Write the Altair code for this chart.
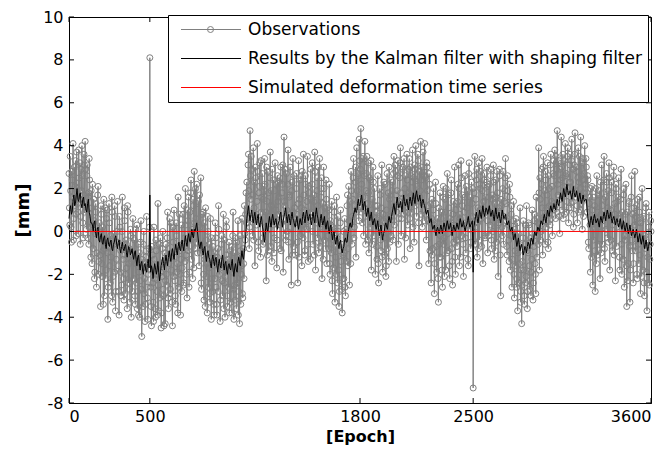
import altair as alt
import pandas as pd

# ---------------- data ----------------
x_ticks = [0, 500, 1800, 2500, 3600]
y_ticks = [-8, -6, -4, -2, 0, 2, 4, 6, 8, 10]

series_names = [
    "Observations",
    "Results by the Kalman filter with shaping filter",
    "Simulated deformation time series",
]
series_colors = ["#808080", "#000000", "#ff0000"]

# observations at epochs 0, 5, 10, ... 3600
obs_step = 5
obs_values = [
    2.7, 0.3, 1.9, -0.5, 2.4, 4.1, 0.6, 1.2, 3.3, -0.2, 2.0, 0.9, 3.8, 1.5, -0.6, 2.9, 4.0, 0.4, 1.7, 3.1,
    4.2, 1.0, 2.6, -0.3, 1.8, 3.4, 0.2, -1.2, 1.1, 2.2, -0.8, 0.5, -1.9, 1.3, -2.6, 0.0, 2.1, -1.4, -0.2, -3.5,
    0.8, -2.1, -0.9, 1.5, -3.0, -0.4, -1.8, 1.0, -4.1, -0.7, 0.4, -2.4, -1.2, 1.6, -3.3, -0.1, -1.9, 0.7, -2.8, -0.5,
    1.4, -1.6, -3.9, 0.2, -0.9, -2.5, 1.6, -1.3, -3.2, 0.5, -2.0, -0.6, -3.6, 0.9, -1.5, -2.7, 0.1, -4.0, -1.1, 0.6,
    -2.2, -0.4, -3.4, -1.5, 0.3, -2.8, -3.9, -1.0, -2.3, 0.5, -4.9, -1.7, -0.6, -2.9, -4.2, -1.2, 0.7, -3.1, -2.0, -0.8,
    8.1, -2.6, -4.4, -1.1, -3.3, 0.2, -2.2, -4.0, -0.9, -2.8, 1.3, -3.7, -1.6, -0.3, -4.5, -2.1, 0.0, -3.0, -1.4, -4.3,
    -0.6, -2.5, 0.9, -3.6, -1.2, -2.9, 0.4, -1.8, -4.4, -0.5, 1.0, -2.3, -3.4, -0.2, -1.5, 1.6, -2.6, -0.9, -3.9, 0.3,
    -1.7, 0.8, -2.4, -0.3, 2.0, -1.1, -3.1, 0.5, 1.6, -1.9, -0.4, 2.4, 0.1, -2.2, 1.2, 2.8, -0.8, 0.6, 2.2, -1.0,
    1.4, -1.6, 0.2, 2.5, -2.7, -0.6, 0.9, -3.2, -1.3, 1.1, -2.1, -3.8, 0.0, -1.7, -2.9, 0.6, -4.1, -2.2, -0.7, -3.4,
    -1.0, 0.4, -2.6, -3.9, -0.8, 1.2, -2.0, -4.2, -1.4, -0.2, -3.0, 0.8, -2.4, -4.0, -1.1, 0.2, -3.5, -1.8, -0.5, -2.7,
    -3.3, -0.7, -1.9, 0.9, -4.1, -2.5, -0.3, -3.6, -1.2, 0.5, -2.8, -4.3, -0.9, -2.0, 0.6, -3.1, -1.5, 1.2, -0.4, 1.8,
    2.3, 0.4, 3.6, -0.8, 4.7, 1.5, 2.9, -0.2, 3.9, 1.1, -1.6, 2.5, 0.3, 4.1, -0.5, 1.8, 3.2, -1.2, 0.9, 2.7,
    -0.6, 2.1, 3.4, 0.2, -2.3, 1.4, 2.8, -0.9, 0.7, 3.7, 1.9, -1.4, 0.5, 2.4, -0.3, 3.2, 1.0, -1.7, 2.6, 0.8,
    1.6, -0.8, 3.0, 0.4, 2.2, -1.9, 4.4, 1.2, -0.4, 2.7, 0.0, 3.8, -1.3, 1.7, 0.6, -2.5, 2.3, 3.4, -0.7, 1.1,
    -1.1, 2.0, 0.8, -2.4, 3.3, 1.5, -0.2, 2.6, -1.6, 0.3, 3.6, 1.0, -0.9, 2.2, 0.1, 3.5, -1.4, 1.8, 0.5, 2.9,
    0.9, 3.2, -0.6, 1.7, 3.7, -1.8, 0.4, 2.5, 1.2, -1.0, 3.4, 0.2, 2.0, -2.2, 1.3, 3.0, -0.4, 0.8, 2.4, -1.5,
    1.1, -0.8, 2.2, -2.0, 0.3, 1.4, -2.9, -0.4, 0.9, -3.3, -1.2, 1.6, -2.4, 0.0, -3.5, -0.9, 1.0, -2.7, -3.8, -1.1,
    -2.2, 0.6, -3.0, -0.3, 1.2, -1.6, 2.1, -2.5, 0.4, 2.8, -0.6, 1.5, 3.4, 0.2, 2.3, -1.2, 3.9, 1.0, 2.6, 4.3,
    1.6, 4.8, 2.2, 0.4, 3.5, 1.1, 4.2, -0.6, 2.7, 1.3, 3.2, -1.0, 0.8, 2.4, -1.8, 1.5, 3.0, -0.2, 2.0, -2.0,
    0.9, -1.3, 2.6, -2.4, 0.2, 1.7, -0.9, 3.1, -1.9, 0.5, -0.3, 2.2, -2.1, 1.0, -0.8, 1.8, 3.0, -0.5, 2.4, 0.7,
    2.3, -0.4, 3.5, 1.2, 2.8, -1.4, 1.9, 3.3, 0.6, 2.5, 3.9, -0.2, 1.5, 3.0, 0.8, -1.3, 2.6, 1.1, 3.6, 0.3,
    1.8, 3.4, -0.8, 2.6, 0.9, 3.8, 1.4, -0.5, 2.9, 4.0, 0.7, 2.1, 3.3, -1.6, 1.6, 4.2, 2.4, 0.2, 3.7, 1.0,
    4.1, 2.5, -0.4, 3.0, 1.2, -1.5, 2.2, 0.4, -2.4, 1.5, -0.8, 2.0, -2.9, 0.1, 1.3, -1.9, 0.6, -3.3, -0.6, 1.8,
    -1.2, 0.9, -2.6, 2.1, -0.3, 1.5, -1.8, 0.4, 2.7, -0.9, 1.1, -2.2, 0.2, 2.4, -1.4, 0.8, -0.5, 3.0, -2.0, 1.3,
    -0.7, 2.2, 3.1, -1.6, 0.6, 3.3, -0.2, 1.7, -2.1, 0.9, 2.6, -1.0, 0.3, 1.9, -1.6, 3.2, 0.1, -0.8, 2.3, 0.7,
    -7.3, 1.8, 3.5, 0.2, 2.4, -1.2, 1.1, 3.2, -0.4, 2.0, 0.6, 3.4, -1.5, 1.4, 2.7, -0.2, 0.9, 3.0, -1.0, 1.6,
    2.2, 0.3, 2.9, -0.8, 1.5, 3.1, -1.3, 0.6, 2.4, -0.5, 1.8, -2.1, 0.4, 2.6, -3.0, 1.2, -0.2, 2.8, 0.7, 1.9,
    3.4, 0.5, -1.1, 1.9, -0.4, 2.2, -1.8, 0.8, -2.6, -0.2, 1.4, -3.1, -0.9, 0.6, -2.2, -3.7, -0.1, -1.5, 1.1, -2.8,
    -4.3, -1.4, 0.5, -3.0, -0.6, -2.4, 1.2, -3.6, -1.0, 0.3, -2.7, -0.3, -1.9, 1.0, -3.2, -0.7, 0.8, -2.0, 1.6, -1.2,
    0.4, 3.9, -1.8, 1.5, 0.0, 2.9, -1.1, 3.5, 0.7, -0.6, 2.4, 1.1, 3.2, -0.8, 2.0, 0.3, 3.6, 1.4, -0.2, 2.7,
    1.3, 3.8, 0.6, 2.9, 4.7, 1.7, 3.3, -0.1, 2.4, 4.4, 1.0, 3.6, 2.1, 0.8, 4.1, 2.7, 1.4, 3.9, 0.4, 2.3,
    3.6, 1.1, 4.3, 2.0, 0.2, 3.1, 4.6, 1.6, 2.8, 0.4, 3.9, 2.3, 1.0, 4.4, 2.6, 0.1, 3.4, 1.8, 4.0, 2.2,
    3.0, 0.9, 2.4, -0.8, 1.6, -1.9, 0.3, 2.1, -2.5, -0.4, 1.2, -2.8, 0.6, 2.6, -1.1, 0.2, 1.9, -2.2, 0.8, 3.1,
    -0.6, 1.5, 3.5, -1.4, 0.8, 2.7, -0.3, 1.9, 3.2, -1.8, 1.0, 2.3, -0.9, 0.5, 3.0, 1.3, -2.3, 2.0, 0.2, 1.6,
    2.5, -1.2, 0.6, 2.9, -2.0, 0.3, 1.7, -2.6, -0.4, 2.2, -3.5, 0.9, -1.5, 1.4, -3.3, 0.0, 2.6, -0.9, -2.4, 1.1,
    2.8, -0.7, 1.2, -2.2, 0.4, -1.5, 1.6, -2.9, -0.3, 2.0, -1.8, 0.7, -3.0, -0.8, 1.3, -3.7, -1.2, 0.2, -2.5, -0.6,
    0.0,
]

# observations at the in-between epochs 2.5, 7.5, 12.5, ... 3597.5
obs_mid_values = [
    1.1, 3.5, 0.2, 2.8, 1.6, -0.4, 3.0, 2.1, 0.8, 3.7, 1.3, -0.1, 2.5, 3.2, 0.7, 1.9, 2.6, -0.3, 3.6, 0.9,
    2.9, 0.1, 3.1, 1.6, -0.6, 2.4, 0.8, 1.9, -1.5, 0.3, 1.5, -2.2, -0.1, 0.9, -1.0, 1.7, -2.0, 0.4, -1.1, 1.2,
    -1.5, 0.2, -3.4, -0.8, 1.1, -2.2, 0.6, -1.0, -2.6, 1.3, -1.6, -0.2, -3.0, 0.9, -2.1, -0.6, 1.2, -3.7, -1.3, 0.0,
    -0.5, -2.8, 0.7, -1.9, -3.0, 0.0, -1.1, -2.2, 1.1, -2.9, -0.4, -1.7, 1.2, -2.4, -0.8, -3.3, -0.2, -1.4, -2.8, -0.3,
    -1.3, -3.0, 0.1, -2.4, -3.6, -0.6, -1.9, -4.0, -0.5, -2.7, -1.3, -3.5, 0.0, -2.2, -3.4, -0.9, -2.6, -4.1, -1.5, 0.2,
    -1.8, -3.5, -0.7, -2.4, -4.2, -1.3, -3.6, -0.4, -2.0, -3.9, -2.5, -0.6, -3.1, -1.9, -3.8, -0.8, -2.7, -4.4, -1.0, -2.3,
    -2.0, -0.3, -3.1, -1.5, 0.6, -2.7, -1.0, -3.3, 0.2, -2.1, -1.2, -3.0, 0.4, -1.9, -3.8, -0.7, 0.8, -2.0, -1.3, -2.8,
    -0.6, -2.5, 1.2, -1.4, 0.3, -2.0, 1.0, -0.9, -2.6, 0.9, 1.8, -1.3, -0.1, 1.5, -1.7, 0.4, 2.0, -0.5, 1.3, 0.2,
    0.3, 1.7, -1.0, -2.4, 0.8, -0.7, -2.0, 0.4, -3.5, -0.4, -1.5, 0.7, -2.6, -0.6, -3.3, -1.0, -0.3, -2.8, -1.6, -3.9,
    -2.2, -0.3, -3.4, -1.2, -2.8, 0.1, -1.6, -3.2, -0.6, -2.3, -1.7, -3.6, -0.4, -2.1, 0.5, -3.0, -1.3, -2.6, -3.8, -0.9,
    -1.6, -3.8, -0.2, -2.7, -1.0, -3.2, -1.8, -0.5, -2.4, -3.9, -1.3, -0.2, -3.4, -1.6, -2.9, -0.8, -2.2, -0.1, 0.8, 0.4,
    1.0, 3.1, 1.9, 0.2, 2.6, 3.5, 0.6, 1.7, -0.4, 2.3, 3.0, 0.8, 1.4, 2.8, -0.9, 2.1, 0.5, 3.3, 1.6, -0.3,
    1.5, -0.5, 2.2, 0.9, 3.0, -1.1, 1.8, 0.1, 2.5, -0.7, 1.2, 2.9, 0.3, -1.0, 1.9, 0.6, 2.2, -0.4, 1.4, 2.3,
    2.5, 0.3, -0.9, 1.8, 3.1, 0.6, 1.4, 2.9, -0.2, 1.0, 2.2, -0.5, 1.6, 3.0, 0.2, 1.9, -1.1, 0.9, 2.6, 0.4,
    0.6, 2.7, -0.5, 1.3, -1.2, 2.4, 0.4, 1.1, 2.8, -0.3, 1.7, -1.1, 2.6, 0.2, 1.4, -0.6, 2.1, 0.7, -1.3, 1.5,
    2.2, 0.0, 1.4, -1.1, 2.8, 0.6, 1.9, -0.3, 3.0, 0.5, -0.7, 1.6, 2.5, 0.1, -1.3, 2.0, 1.1, -0.8, 1.5, 0.3,
    -0.2, 1.0, -1.5, 0.5, -1.0, -2.3, 0.2, -1.7, 1.2, -0.7, -2.0, -0.3, 0.7, -1.8, -2.8, 0.4, -1.4, -0.6, -2.2, 0.0,
    -1.0, -2.6, 0.1, -1.4, 1.7, -0.8, 0.5, 1.4, -1.5, 1.9, 0.7, 2.5, -0.3, 1.2, 3.0, 0.9, 1.9, 2.7, 0.5, 3.3,
    2.9, 0.9, 3.4, 1.6, -0.2, 2.6, 0.7, 1.9, 3.5, -0.4, 1.8, 2.5, 0.2, 3.3, 1.0, -0.6, 2.3, 0.4, 1.2, 0.6,
    -0.7, 1.2, -1.5, 0.6, 2.0, -0.4, 1.1, -1.2, 0.8, 2.3, -1.1, 0.4, -1.6, 2.7, 0.0, -1.4, 1.5, 0.7, -0.2, 1.9,
    1.0, 2.7, 0.3, 3.1, 1.7, 0.9, 2.6, -0.6, 1.4, 3.2, 1.8, 0.6, 2.9, 1.2, 3.4, 2.0, -0.3, 1.6, 2.4, 0.9,
    2.9, 0.6, 3.0, 1.7, 2.3, 0.2, 2.5, 3.1, 1.2, 2.2, 1.5, 3.6, 0.4, 2.8, 1.9, 0.8, 3.0, 1.3, 2.6, 0.5,
    2.6, 0.8, 3.2, 1.9, 0.5, 2.7, -0.9, 1.3, 0.6, -1.1, 1.0, 0.3, -1.5, 2.3, -0.7, 0.4, -2.2, 1.1, -1.2, -0.2,
    0.6, -1.8, 1.6, -0.6, -2.1, 0.9, 2.0, -1.0, -0.1, 1.7, -1.6, 0.6, 1.8, -0.8, -2.5, 1.4, 0.3, -1.2, 1.0, -0.4,
    1.4, -0.4, 2.0, 0.8, -1.2, 2.5, 1.2, -0.6, 0.4, 1.6, -0.3, 2.1, 1.1, -1.3, 2.7, 0.5, 1.6, -0.5, 1.3, 2.0,
    0.5, 2.6, -0.6, 1.5, 2.9, 0.4, -0.8, 2.2, 1.0, 2.8, -0.7, 1.9, 0.8, 2.4, -0.3, 1.6, 2.3, 0.5, 2.1, -0.2,
    0.9, 2.6, -0.4, 1.7, 0.0, 2.3, 1.3, -0.9, 1.6, 2.8, 0.3, 1.1, 2.9, -1.1, 1.5, 0.2, 2.0, -0.6, 1.4, 2.5,
    1.3, -0.7, 2.6, 0.3, -1.4, 1.6, -0.2, 1.2, -1.3, 0.5, -2.0, 0.1, -1.6, -2.6, 0.4, -1.0, -2.4, -0.6, -3.3, -1.8,
    -2.5, -0.3, -1.8, -3.4, 0.3, -2.1, -0.9, -2.8, 0.4, -1.6, -0.5, -3.0, -1.3, -0.1, -2.4, 0.5, -1.5, -2.9, -0.2, 0.6,
    -0.6, 1.8, 2.5, -0.4, 2.2, 1.1, 3.0, 0.5, 1.9, 2.8, 0.2, 1.7, -0.5, 2.6, 1.2, 3.1, 0.6, 2.1, 1.0, 3.3,
    2.6, 1.2, 3.5, 0.9, 2.2, 3.2, 0.7, 2.9, 1.5, 3.0, 2.5, 0.6, 3.3, 1.8, 2.6, 0.9, 3.5, 2.0, 1.1, 3.1,
    2.3, 3.3, 1.4, 2.9, 0.8, 3.6, 1.9, 3.0, 1.2, 2.5, 0.9, 3.5, 2.0, 1.3, 3.2, 2.4, 0.7, 2.7, 1.5, 3.4,
    1.8, 2.6, -0.5, 1.3, 0.3, 2.0, -1.2, 1.0, 0.1, 1.6, -0.9, 2.0, -1.5, 0.9, 1.7, -0.6, 0.4, 2.3, -1.0, 1.2,
    0.5, 2.4, -0.8, 1.6, 0.1, 2.3, 1.1, -0.5, 2.5, 0.7, -0.4, 1.8, 0.3, 2.6, -1.1, 0.8, 2.2, -0.7, 1.4, 0.6,
    0.4, -1.8, 1.5, -0.6, 0.9, -1.3, 2.0, -0.2, 0.8, -1.6, 0.2, -2.3, 1.3, -0.7, -1.8, 1.6, -0.4, 0.8, -1.5, 0.3,
    -0.9, 0.7, -2.0, 1.5, -0.6, 0.9, -1.1, 0.4, -2.1, -0.3, 0.6, -2.4, -0.2, 1.1, -1.9, -0.5, -2.4, 0.9, -1.3, 0.5,
]

# Kalman filter results at epochs 0, 10, 20, ... 3600
kalman_step = 10
kalman_values = [
    0.6, 1.2, 0.9, 1.7, 1.3, 2.0, 1.4, 1.8, 1.1, 1.6,
    1.3, 0.9, 1.5, 0.7, 0.4, 0.0, 0.5, -0.3, 0.2, -0.5,
    -0.1, -0.6, -0.2, -0.8, -0.3, -0.7, -0.4, -0.9, -0.5, -0.2,
    -0.8, -0.4, -1.0, -0.5, -0.9, -0.6, -1.2, -0.7, -1.1, -0.8,
    -1.3, -0.9, -1.6, -1.1, -1.8, -1.4, -2.0, -1.5, -1.9, -1.3,
    1.7, -1.6, -2.2, -1.5, -2.0, -1.4, -2.3, -1.6, -1.2, -1.8,
    -1.1, -1.6, -0.9, -1.4, -0.8, -1.3, -0.6, -1.1, -0.5, -0.9,
    -0.4, -0.9, -0.2, -0.7, -0.1, -0.5, 0.1, -0.3, 0.0, 0.4,
    -0.4, -0.8, -0.5, -1.1, -0.7, -1.4, -0.9, -1.3, -1.7, -1.1,
    -1.6, -1.2, -1.9, -1.3, -1.7, -1.1, -1.8, -1.4, -2.0, -1.5,
    -1.8, -1.3, -2.1, -1.5, -1.9, -1.2, -1.6, -0.9, -1.3, -0.6,
    0.6, 1.2, 0.5, 1.0, 0.4, 0.9, 0.3, 0.8, 0.2, 0.7,
    0.1, -0.5, 0.4, 0.0, 0.7, 0.2, 0.8, 0.3, 0.6, 0.1,
    0.5, 0.9, 0.2, 0.7, 1.1, 0.4, 0.8, 0.3, 0.9, 0.5,
    0.2, 0.7, 0.1, 0.6, 0.3, 0.9, 0.4, 1.0, 0.5, 0.8,
    0.3, 0.9, 0.4, 1.1, 0.6, 0.2, 0.8, 0.3, 0.7, 0.1,
    0.5, -0.1, 0.3, -0.4, 0.0, -0.6, -0.2, -0.8, -0.4, -1.0,
    -0.7, -0.3, -0.5, 0.1, 0.4, 0.2, 0.8, 1.1, 0.9, 1.5,
    1.2, 1.7, 1.0, 1.4, 0.7, 1.1, 0.5, 0.9, 0.3, 0.6,
    0.1, 0.5, -0.2, 0.3, -0.4, 0.0, 0.4, 0.1, 0.7, 0.4,
    0.9, 1.3, 0.8, 1.6, 1.1, 1.4, 0.9, 1.7, 1.2, 1.5,
    1.0, 1.6, 1.2, 1.8, 1.3, 1.9, 1.4, 1.7, 1.1, 1.5,
    1.2, 0.8, 1.0, 0.4, 0.6, 0.1, 0.3, -0.2, 0.2, -0.1,
    0.3, -0.1, 0.4, 0.0, 0.5, 0.1, 0.4, -0.2, 0.3, 0.0,
    0.4, 0.1, 0.6, 0.2, 0.5, 0.0, 0.3, 0.7, 0.2, 0.4,
    -1.9, 0.5, 0.9, 0.4, 1.0, 0.6, 1.2, 0.7, 1.1, 0.8,
    1.2, 0.7, 1.0, 0.5, 1.1, 0.6, 0.9, 0.4, 1.0, 0.6,
    0.8, 0.3, 0.5, 0.0, 0.2, -0.4, -0.1, -0.7, -0.3, -0.9,
    -0.6, -1.1, -0.7, -1.0, -0.5, -0.8, -0.3, -0.6, 0.0, -0.2,
    0.2, 0.0, 0.5, 0.3, 0.8, 0.4, 1.0, 0.7, 1.2, 0.9,
    1.3, 1.0, 1.5, 1.2, 1.8, 1.4, 2.0, 1.6, 2.2, 1.7,
    1.9, 1.5, 2.1, 1.6, 1.9, 1.4, 1.8, 1.3, 1.7, 1.4,
    1.5, 0.6, 0.2, 0.7, 0.3, 0.8, 0.4, 0.6, 0.2, 0.7,
    0.4, 0.9, 0.5, 1.0, 0.6, 0.9, 0.4, 0.7, 0.3, 0.6,
    0.2, 0.6, 0.1, 0.5, 0.0, 0.4, -0.1, 0.3, -0.2, 0.1,
    -0.3, 0.1, -0.5, -0.1, -0.6, -0.2, -0.8, -0.4, -0.9, -0.5,
    -0.6,
]

# Kalman filter results at the in-between epochs 5, 15, 25, ... 3595
kalman_mid_values = [
    1.0, 0.8, 1.5, 1.2, 1.7, 1.5, 1.7, 1.3, 1.5, 1.2,
    1.0, 1.3, 0.9, 0.4, 0.3, 0.4, -0.1, 0.1, -0.4, -0.2,
    -0.5, -0.3, -0.6, -0.4, -0.6, -0.5, -0.8, -0.6, -0.3, -0.6,
    -0.5, -0.8, -0.7, -0.8, -0.7, -1.0, -0.9, -0.8, -1.0, -1.1,
    -1.0, -1.3, -1.2, -1.5, -1.5, -1.8, -1.6, -1.8, -1.5, -1.7,
    -1.9, -1.8, -1.8, -1.7, -1.8, -1.9, -2.0, -1.4, -1.5, -1.4,
    -1.4, -1.2, -1.2, -1.0, -1.1, -0.9, -0.9, -0.7, -0.8, -0.6,
    -0.7, -0.5, -0.5, -0.3, -0.4, -0.2, -0.2, 0.1, 0.2, 0.0,
    -0.7, -0.5, -0.9, -0.8, -1.1, -1.0, -1.2, -1.5, -1.3, -1.4,
    -1.3, -1.6, -1.5, -1.6, -1.3, -1.5, -1.5, -1.8, -1.6, -1.7,
    -1.5, -1.8, -1.7, -1.8, -1.4, -1.5, -1.2, -1.2, -0.9, 0.0,
    0.9, 0.8, 0.8, 0.6, 0.7, 0.5, 0.6, 0.4, 0.5, 0.3,
    -0.3, 0.0, 0.1, 0.4, 0.4, 0.6, 0.5, 0.5, 0.3, 0.4,
    0.8, 0.5, 0.5, 0.9, 0.7, 0.7, 0.5, 0.7, 0.6, 0.3,
    0.5, 0.3, 0.4, 0.4, 0.7, 0.6, 0.8, 0.7, 0.7, 0.5,
    0.7, 0.6, 0.8, 0.8, 0.3, 0.6, 0.5, 0.5, 0.3, 0.4,
    0.1, 0.2, -0.1, -0.1, -0.4, -0.3, -0.6, -0.5, -0.8, -0.8,
    -0.4, -0.5, -0.1, 0.3, 0.2, 0.6, 0.9, 0.9, 1.3, 1.2,
    1.5, 1.3, 1.3, 1.0, 0.9, 0.8, 0.7, 0.5, 0.5, 0.3,
    0.3, 0.1, 0.1, -0.1, -0.1, 0.3, 0.2, 0.5, 0.5, 0.7,
    1.1, 1.0, 1.3, 1.3, 1.2, 1.2, 1.4, 1.4, 1.3, 1.2,
    1.4, 1.4, 1.5, 1.5, 1.7, 1.6, 1.5, 1.4, 1.4, 1.3,
    1.0, 0.9, 0.7, 0.5, 0.3, 0.2, 0.0, 0.1, 0.0, 0.1,
    0.1, 0.2, 0.2, 0.3, 0.3, 0.2, 0.1, 0.1, 0.1, 0.2,
    0.2, 0.4, 0.4, 0.3, 0.2, 0.2, 0.5, 0.4, 0.3, 0.5,
    0.2, 0.7, 0.6, 0.7, 0.8, 0.9, 0.9, 0.9, 1.0, 1.0,
    0.9, 0.9, 0.7, 0.8, 0.8, 0.7, 0.6, 0.7, 0.8, 0.7,
    0.5, 0.4, 0.2, 0.1, -0.1, -0.2, -0.4, -0.5, -0.6, -0.7,
    -0.9, -0.9, -0.8, -0.7, -0.6, -0.5, -0.4, -0.3, -0.1, 0.0,
    0.1, 0.3, 0.4, 0.6, 0.6, 0.7, 0.8, 1.0, 1.0, 1.1,
    1.1, 1.3, 1.3, 1.5, 1.6, 1.7, 1.8, 1.9, 1.9, 1.8,
    1.7, 1.8, 1.8, 1.7, 1.6, 1.6, 1.5, 1.5, 1.5, 1.5,
    1.0, 0.4, 0.5, 0.5, 0.6, 0.6, 0.5, 0.4, 0.5, 0.5,
    0.7, 0.7, 0.8, 0.8, 0.7, 0.6, 0.6, 0.5, 0.5, 0.4,
    0.4, 0.3, 0.3, 0.2, 0.2, 0.1, 0.1, 0.0, 0.0, -0.1,
    -0.1, -0.2, -0.3, -0.4, -0.4, -0.5, -0.6, -0.7, -0.7, -0.6,
]

sim_epochs = [0, 3600]
sim_values = [0.0, 0.0]

# ---------------- tables ----------------
obs_df = pd.concat([
    pd.DataFrame({"epoch": [i * obs_step for i in range(len(obs_values))], "value": obs_values}),
    pd.DataFrame({"epoch": [obs_step / 2 + i * obs_step for i in range(len(obs_mid_values))],
                  "value": obs_mid_values}),
]).sort_values("epoch").reset_index(drop=True)
obs_df["series"] = series_names[0]

kal_df = pd.concat([
    pd.DataFrame({"epoch": [i * kalman_step for i in range(len(kalman_values))], "value": kalman_values}),
    pd.DataFrame({"epoch": [kalman_step / 2 + i * kalman_step for i in range(len(kalman_mid_values))],
                  "value": kalman_mid_values}),
]).sort_values("epoch").reset_index(drop=True)
kal_df["series"] = series_names[1]

sim_df = pd.DataFrame({"epoch": sim_epochs, "value": sim_values, "series": series_names[2]})
marker_df = pd.DataFrame({"epoch": [0], "value": [0.0], "marker": [series_names[0]]})
xt_df = pd.DataFrame({"epoch": x_ticks})
yt_df = pd.DataFrame({"value": y_ticks})

# ---------------- chart ----------------
W, H = 582, 386
FONT = "DejaVu Sans"
LINE_PATH = "M-4,0H4"

xscale = alt.Scale(domain=[0, 3600], nice=False, zero=False)
yscale = alt.Scale(domain=[-8, 10], nice=False, zero=False)
xenc = alt.X("epoch:Q", scale=xscale,
             axis=alt.Axis(values=x_ticks, labelExpr="'' + datum.value", title="[Epoch]",
                           labelPadding=5, titlePadding=4, titleFontSize=16))
yenc = alt.Y("value:Q", scale=yscale,
             axis=alt.Axis(values=y_ticks, labelExpr="'' + datum.value", title="[mm]",
                           labelPadding=6, titlePadding=10, titleFontSize=18))

# main legend: coloured line samples for the three series
legend = alt.Legend(
    title=None, orient="none", legendX=99, legendY=-2, direction="vertical",
    fillColor="white", strokeColor="black", padding=6, zindex=0,
    labelFont=FONT, labelFontSize=17, labelColor="black", labelLimit=0,
    symbolType=LINE_PATH, symbolSize=225, symbolOffset=28.5, labelOffset=28.5, rowPadding=11,
    symbolStrokeWidth=1, symbolOpacity=1, symbolFillColor="transparent",
)
color = alt.Color("series:N",
                  scale=alt.Scale(domain=series_names, range=series_colors),
                  legend=legend)

# small overlay legend: the circle marker on the "Observations" line sample
marker_legend = alt.Legend(
    title=None, orient="none", legendX=138, legendY=9, direction="vertical",
    padding=0, zindex=1, labelExpr="''", labelFontSize=1, labelOffset=0, symbolOffset=0,
    symbolType="circle", symbolSize=36, symbolStrokeWidth=1, symbolOpacity=1,
    symbolStrokeColor=series_colors[0], symbolFillColor="white",
)
marker_shape = alt.Shape("marker:N",
                         scale=alt.Scale(domain=[series_names[0]], range=["circle"]),
                         legend=marker_legend)

obs_line = alt.Chart(obs_df).mark_line(strokeWidth=1).encode(
    x=xenc, y=yenc, color=color, order="epoch:Q", strokeWidth=alt.value(1.5))
obs_pts = alt.Chart(obs_df).mark_point(filled=False, size=36, strokeWidth=1, opacity=1).encode(
    x=xenc, y=yenc, color=color)
kal_line = alt.Chart(kal_df).mark_line(strokeWidth=1).encode(
    x=xenc, y=yenc, color=color, order="epoch:Q", strokeWidth=alt.value(1.5))
sim_line = alt.Chart(sim_df).mark_line(strokeWidth=1).encode(
    x=xenc, y=yenc, color=color, strokeWidth=alt.value(1.3))
# carrier for the marker legend: draws nothing itself
marker_layer = alt.Chart(marker_df).transform_filter("false").mark_point(
    filled=False, color=series_colors[0], size=36, strokeWidth=1, opacity=1).encode(
    x=xenc, y=yenc, shape=marker_shape)

tick_bottom = alt.Chart(xt_df).mark_rule(color="black", strokeWidth=1).encode(
    x=xenc, y=alt.value(H), y2=alt.value(H - 5))
tick_top = alt.Chart(xt_df).mark_rule(color="black", strokeWidth=1).encode(
    x=xenc, y=alt.value(0), y2=alt.value(5))
tick_left = alt.Chart(yt_df).mark_rule(color="black", strokeWidth=1).encode(
    y=yenc, x=alt.value(0), x2=alt.value(5))
tick_right = alt.Chart(yt_df).mark_rule(color="black", strokeWidth=1).encode(
    y=yenc, x=alt.value(W), x2=alt.value(W - 5))

chart = alt.layer(obs_line, obs_pts, kal_line, sim_line, marker_layer,
                  tick_bottom, tick_top, tick_left, tick_right).properties(
    width=W, height=H,
    autosize=alt.AutoSizeParams(type="none"),
    padding={"left": 61, "top": 9, "right": 13, "bottom": 45},
).configure_view(
    stroke="black", strokeWidth=1
).configure_axis(
    labelFont=FONT, labelFontSize=16, labelColor="black",
    titleFont=FONT, titleFontWeight="bold", titleColor="black",
    tickSize=0, grid=False, domainColor="black", domainWidth=1,
)

chart.save("out.html", embed_options={"renderer": "svg", "actions": False})
